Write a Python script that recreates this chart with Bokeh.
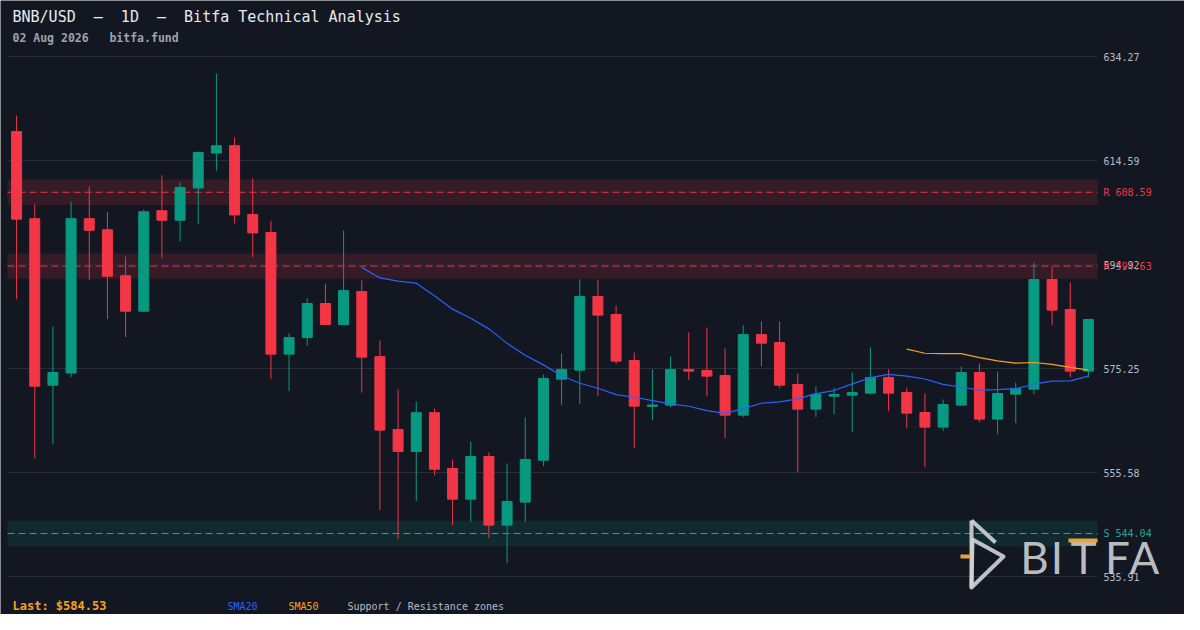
import numpy as np
import pandas as pd
from bokeh.plotting import figure
from bokeh.models import (ColumnDataSource, Range1d, BoxAnnotation, Label, PolyAnnotation)
from bokeh.core.properties import value
from bokeh.embed import file_html
from bokeh.resources import INLINE

# ---------------- data ----------------
opens = [620.09, 603.6, 572.1, 574.4, 603.6, 601.5, 592.8, 586.1, 605.1, 603.3,
         609.4, 616.0, 617.4, 604.4, 600.98, 577.97, 581.1, 587.55, 583.58, 589.8,
         577.5, 563.7, 559.56, 566.9, 556.34, 550.54, 558.6, 545.63, 549.98, 557.9,
         573.24, 574.94, 588.88, 585.47, 576.77, 568.1, 568.32, 575.07, 574.88, 573.93,
         566.43, 581.69, 580.17, 572.23, 567.56, 570.02, 570.21, 570.59, 573.55, 570.72,
         566.93, 564.16, 568.32, 574.5, 565.68, 570.4, 571.35, 592.09, 586.42, 574.76]
highs = [623.1, 606.3, 583.2, 606.8, 609.7, 604.9, 596.4, 605.3, 611.8, 610.44,
         616.3, 631.05, 618.95, 611.2, 603.2, 581.9, 588.5, 591.3, 601.36, 591.9,
         580.55, 571.29, 569.0, 567.7, 558.04, 561.45, 559.37, 557.29, 566.0, 574.12,
         578.1, 592.09, 592.09, 587.17, 578.28, 575.07, 577.53, 582.07, 583.01, 579.04,
         583.39, 584.15, 584.15, 574.31, 571.85, 571.66, 574.5, 579.23, 575.07, 571.66,
         570.53, 569.4, 575.64, 576.2, 574.69, 572.61, 595.31, 594.55, 591.53, 584.53]
lows = [588.37, 558.3, 560.95, 573.6, 591.96, 584.6, 581.2, 585.9, 596.1, 599.3,
        602.6, 612.6, 602.7, 596.3, 573.24, 570.97, 579.5, 583.58, 583.58, 570.7,
        548.46, 542.98, 550.17, 555.08, 545.63, 546.2, 543.17, 538.44, 546.2, 556.8,
        568.32, 568.51, 570.02, 576.08, 560.19, 565.49, 567.94, 573.05, 570.02, 562.08,
        566.05, 575.7, 571.54, 555.65, 566.05, 566.62, 563.21, 570.4, 567.19, 563.97,
        556.6, 563.41, 568.32, 565.11, 562.84, 564.92, 570.4, 583.46, 573.62, 573.62]
closes = [603.5, 571.9, 574.5, 603.6, 601.4, 592.7, 586.1, 604.9, 603.3, 609.5,
          616.1, 617.4, 604.3, 600.9, 577.97, 581.1, 587.55, 583.58, 590.0, 577.4,
          563.6, 559.56, 566.9, 556.2, 550.54, 558.6, 545.63, 550.1, 558.05, 573.37,
          575.07, 588.88, 585.35, 576.65, 568.13, 568.35, 575.07, 574.75, 573.81, 566.43,
          581.69, 580.05, 572.1, 567.56, 570.34, 570.34, 570.72, 573.55, 570.59, 566.81,
          564.16, 568.45, 574.5, 565.68, 570.53, 571.48, 592.09, 586.29, 574.76, 584.53]

resistance_levels = [608.59, 594.63]
support_levels = [544.04]
y_ticks = [535.91, 555.58, 575.25, 594.92, 614.59, 634.27]
y_tick_labels = ["535.91", "555.58", "575.25", "594.92", "614.59", "634.27"]

NB = "\u00a0"
title_text = f"BNB/USD{NB*2}\u2013{NB*2}1D{NB*2}\u2013{NB*2}Bitfa Technical Analysis"
subtitle_text = f"02 Aug 2026{NB*3}bitfa.fund"
last_text = "Last: $584.53"
legend_items = ["SMA20", "SMA50", "Support / Resistance zones"]
logo_letters = ["B", "I", "T", "F", "A"]

# ---------------- style ----------------
BG = "#131722"
GREEN = "#089981"
RED = "#f23645"
TEAL = "#26a69a"
BLUE = "#2962ff"
ORANGE = "#f7a21b"
GRID = "#2a2e39"
AXIS_TXT = "#b8bcc6"
MONO = "DejaVu Sans Mono"
ZONE_HALF = 2.4

n = len(closes)
idx = np.arange(n)
o = np.array(opens); c = np.array(closes)
inc = c >= o
colors = np.where(inc, GREEN, RED)
src = ColumnDataSource(dict(
    x=idx, high=highs, low=lows,
    top=np.maximum(o, c), bottom=np.minimum(o, c), color=colors))

cs = pd.Series(closes)
sma20 = cs.rolling(20).mean().to_numpy()
sma50 = cs.rolling(50).mean().to_numpy()

# ---------------- layout (page px) ----------------
W, H = 1184, 614          # canvas size; canvas starts at page (8, 8)
PL, PR, PT, PB = 15, 1105, 64, 584   # price area edges in page px
kx = (PR - PL) / n                   # px per candle
ky = (PB - PT) / (y_ticks[-1] - y_ticks[0])
x_lo = -0.5 - (PL - 8) / kx
x_hi = -0.5 + (8 + W - PL) / kx
y_hi = y_ticks[-1] + (PT - 8) / ky
y_lo = y_ticks[0] - (8 + H - PB) / ky

def dx(X):  # page x -> data x
    return -0.5 + (X - PL) / kx

p = figure(width=W, height=H, output_backend="svg", toolbar_location=None,
           x_range=Range1d(x_lo, x_hi), y_range=Range1d(y_lo, y_hi),
           x_axis_location=None, y_axis_location=None, title=None,
           min_border=0, min_border_left=0, min_border_right=0,
           min_border_top=0, min_border_bottom=0)
p.background_fill_color = BG
p.border_fill_color = BG
p.outline_line_color = None
p.grid.visible = False

# grid lines + price labels (right scale)
p.segment(x0=-0.5, x1=n - 0.5, y0=y_ticks, y1=y_ticks, line_color=GRID, line_width=1)
p.text(x=[dx(1111)] * len(y_ticks), y=y_ticks, text=y_tick_labels,
       text_color=AXIS_TXT, text_font=value(MONO), text_font_size=value("10px"),
       text_baseline="middle", text_align="left")

# zones
for lvl in resistance_levels:
    p.add_layout(BoxAnnotation(left=-0.5, right=n - 0.5, bottom=lvl - ZONE_HALF, top=lvl + ZONE_HALF,
                               fill_color=RED, fill_alpha=0.15, line_color=None, level="underlay"))
for lvl in support_levels:
    p.add_layout(BoxAnnotation(left=-0.5, right=n - 0.5, bottom=lvl - ZONE_HALF, top=lvl + ZONE_HALF,
                               fill_color=GREEN, fill_alpha=0.15, line_color=None, level="underlay"))
p.segment(x0=-0.5, x1=n - 0.5, y0=resistance_levels, y1=resistance_levels,
          line_color=RED, line_width=1, line_dash="7 4")
p.segment(x0=-0.5, x1=n - 0.5, y0=support_levels, y1=support_levels,
          line_color=TEAL, line_width=1, line_dash="7 4")
p.text(x=[dx(1111)] * len(resistance_levels), y=resistance_levels,
       text=[f"R {v:.2f}" for v in resistance_levels], text_color=RED,
       text_font=value(MONO), text_font_size=value("10px"), text_baseline="middle")
p.text(x=[dx(1111)] * len(support_levels), y=support_levels,
       text=[f"S {v:.2f}" for v in support_levels], text_color=TEAL,
       text_font=value(MONO), text_font_size=value("10px"), text_baseline="middle")

# candles
p.segment(x0="x", y0="low", x1="x", y1="high", color="color", line_width=1, source=src)
p.vbar(x="x", width=0.55, top="top", bottom="bottom", fill_color="color",
       line_color="color", line_width=1, source=src)

# moving averages
p.line(idx, sma20, line_color=BLUE, line_width=1.2)
p.line(idx, sma50, line_color=ORANGE, line_width=1.2)

# ---------------- texts & logo (screen units relative to canvas bottom-left) ----------------
def sx(X):
    return X - 8
def sy(Y):
    return (8 + H) - Y

def lab(text, X, Y, color, size, bold=False, font=MONO, align="left", baseline="middle", alpha=1.0):
    p.add_layout(Label(x=sx(X), y=sy(Y), x_units="screen", y_units="screen", text=text,
                       text_color=color, text_font=font, text_font_size=size,
                       text_font_style="bold" if bold else "normal",
                       text_align=align, text_baseline=baseline, text_alpha=alpha))

lab(title_text, 20, 24, "#e8eaed", "15px")
lab(subtitle_text, 20, 45, "#9ea3ad", "11.5px", bold=True)
lab(last_text, 20, 613.5, ORANGE, "12px", bold=True)
lab(legend_items[0], 235, 614, BLUE, "10px")
lab(legend_items[1], 296, 614, ORANGE, "10px")
lab(legend_items[2], 355, 614, AXIS_TXT, "10px")

LOGO = "#d2d3d5"
def poly(pts):
    p.add_layout(PolyAnnotation(xs=[sx(a) for a, b in pts], ys=[sy(b) for a, b in pts],
                                xs_units="screen", ys_units="screen",
                                fill_alpha=0, line_color=LOGO, line_width=4, line_alpha=0.9,
                                line_join="round"))
poly([(979, 528), (979, 595)])
poly([(979, 528), (1003, 550)])
poly([(980, 547), (1011, 564), (979, 595)])
for ch, X in zip(logo_letters, [1042, 1064.5, 1091, 1125, 1152]):
    lab(ch, X, 564, LOGO, "44px", font="Lato", align="center", baseline="middle", alpha=0.9)

def obox(x0, x1, y0, y1):
    p.add_layout(BoxAnnotation(left=sx(x0), right=sx(x1), top=sy(y0), bottom=sy(y1),
                               left_units="screen", right_units="screen",
                               top_units="screen", bottom_units="screen",
                               fill_color="#e8a33a", fill_alpha=1, line_color=None))
obox(968, 978, 562, 566)
obox(1076, 1105, 546, 550)

html = file_html(p, INLINE)
html = html.replace("<body>", f'<body style="margin:8px;background-color:{BG};">', 1)
open("out.html", "w").write(html)
